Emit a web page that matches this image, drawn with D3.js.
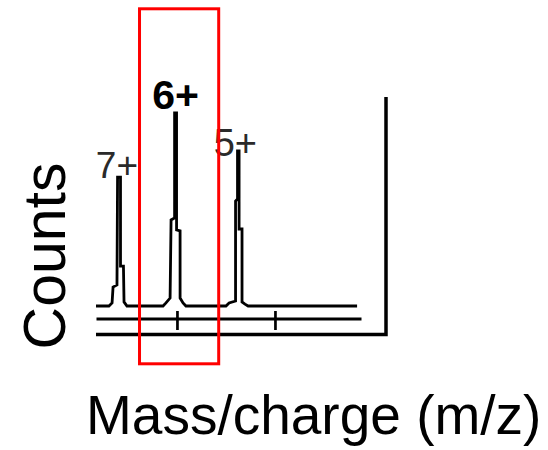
<!DOCTYPE html>
<html lang="en">
<head>
    <meta charset="UTF-8">
    <title>Mass spectrum</title>
    <style>
        body{ margin:0; background:#fff; }
        svg{ display:block; }
        text{ font-family:"Liberation Sans", Arial, sans-serif; }
    </style>
    <script src="https://cdn.jsdelivr.net/npm/d3@7"></script>
</head>
<body>
<script>
    const width = 548
    const height = 450

    // spectrum trace, m/z vs counts
    const traceMz = [587, 653, 669, 674, 694, 697, 712, 712, 727, 730, 745,
        929, 944, 965, 970, 988, 988, 998, 998, 1016, 1016, 1031, 1046,
        1250, 1266, 1299, 1299, 1309, 1309, 1317, 1317, 1332, 1332, 1347, 1363,
        1919]
    const traceCounts = [0, 0, 1.6, 9.8, 10.9, 66.8, 66.8, 20.7, 20.7, 2.1, 0,
        0, 1.6, 4.1, 44.6, 45.6, 100, 100, 39.4, 38.9, 4.1, 1.6, 0,
        0, 1.6, 2.6, 54.4, 55.4, 80.3, 80.3, 39.9, 39.9, 2.1, 1.0, 0,
        0]

    // charge state peaks
    const charges = ["7+", "6+", "5+"]
    const apexMz = [704, 993, 1313]
    const apexCounts = [66.8, 100, 80.3]

    const tickMz = [1000, 1500]
    const highlightMz = [809, 1213]   // boxed 6+ region

    const x = d3.scaleLinear().domain([587, 1939]).range([96, 361])
    const y = d3.scaleLinear().domain([0, 100]).range([306, 113])

    let svg = d3.select("body").append("svg")
        .attr("width", width)
        .attr("height", height)
        .attr("viewBox", `0 0 ${width} ${height}`)

    // frame: bottom rule and right side
    svg.append("path")
        .attr("d", "M96,334.5 H386 V97")
        .attr("fill", "none")
        .attr("stroke", "black")
        .attr("stroke-width", 3.5)

    // x axis with ticks crossing the line
    let gAxis = svg.append("g")
        .attr("transform", "translate(0,318.5)")
        .call(d3.axisBottom(x).tickValues(tickMz).tickSize(11.5).tickSizeOuter(0).tickFormat(""))
    gAxis.select(".domain").attr("stroke", "black").attr("stroke-width", 3)
    gAxis.selectAll(".tick line")
        .attr("y1", -7.5)
        .attr("stroke", "black")
        .attr("stroke-width", 2.7)

    // spectrum
    const pts = traceMz.map((m, i) => [m, traceCounts[i]])
    const line = d3.line().x(d => x(d[0])).y(d => y(d[1]))
    svg.append("path")
        .datum(pts)
        .attr("d", line)
        .attr("fill", "none")
        .attr("stroke", "black")
        .attr("stroke-width", 2.8)
        .attr("stroke-linejoin", "miter")

    // peak labels
    const dx = [-2, 0, -3]
    const dy = [1, -4, 5]
    const fs = [37, 41, 38]
    svg.selectAll(".peakLabel")
        .data(charges)
        .enter()
        .append("text")
        .attr("class", "peakLabel")
        .attr("x", (d, i) => x(apexMz[i]) + dx[i])
        .attr("y", (d, i) => y(apexCounts[i]) + dy[i])
        .attr("text-anchor", "middle")
        .attr("font-size", (d, i) => fs[i])
        .attr("font-weight", d => d === "6+" ? "bold" : "normal")
        .attr("fill", d => d === "6+" ? "black" : "#2a2a2a")
        .text(d => d)

    // highlight box
    svg.append("rect")
        .attr("x", x(highlightMz[0]))
        .attr("y", 8.8)
        .attr("width", x(highlightMz[1]) - x(highlightMz[0]))
        .attr("height", 355)
        .attr("fill", "none")
        .attr("stroke", "#ff0000")
        .attr("stroke-width", 3)

    // axis titles
    svg.append("text")
        .attr("transform", "translate(65,256) rotate(-90)")
        .attr("text-anchor", "middle")
        .attr("font-size", 59)
        .text("Counts")

    svg.append("text")
        .attr("x", 86)
        .attr("y", 434)
        .attr("font-size", 55)
        .text("Mass/charge (m/z)")
</script>
</body>
</html>
